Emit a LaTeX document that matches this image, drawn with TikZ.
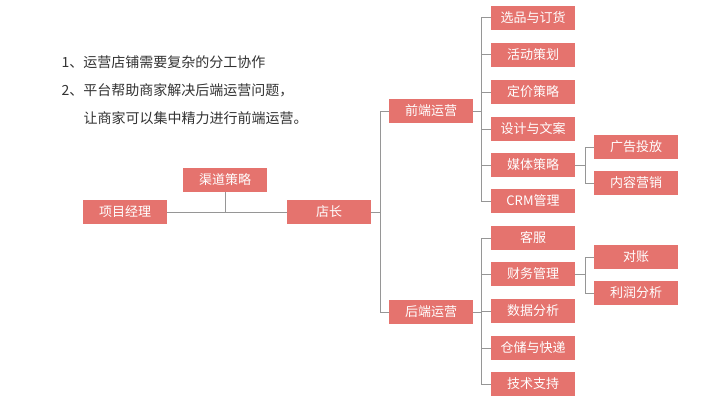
\documentclass[tikz,border=0pt]{standalone}
\usepackage{fontspec}
\setmainfont{Noto Sans CJK SC}
\definecolor{boxred}{RGB}{229,115,110}
\definecolor{linegray}{RGB}{150,150,150}
\tikzset{every picture/.style={line width=0.75pt}}
\tikzset{
  box/.style={fill=boxred,text=white,minimum width=84pt,minimum height=24pt,inner sep=0pt,font=\fontsize{13}{13}\selectfont},
  link/.style={draw=linegray,line width=1pt}
}
\begin{document}
\begin{tikzpicture}[x=1pt,y=1pt,yscale=-1,xscale=1]
\useasboundingbox (0,0) rectangle (715,404);
\fill[white] (0,0) rectangle (715,404);

% notes
\node[anchor=west,font=\fontsize{14}{14}\selectfont,text=black!80] (t1) at (58,62) {1、运营店铺需要复杂的分工协作};
\node[anchor=west,font=\fontsize{14}{14}\selectfont,text=black!80] (t2) at (58,90) {2、平台帮助商家解决后端运营问题，};
\node[anchor=west,font=\fontsize{14}{14}\selectfont,text=black!80] (t3) at (80,118) {让商家可以集中精力进行前端运营。};

% boxes
\node[box] (pm) at (125,212) {项目经理};
\node[box] (qd) at (225,180) {渠道策略};
\node[box] (dz) at (329,212) {店长};
\node[box] (qy) at (431,111) {前端运营};
\node[box] (hy) at (431,312) {后端运营};
\foreach \n/\y/\t in {a1/18/选品与订货,a2/55/活动策划,a3/92/定价策略,a4/129/设计与文案,a5/165/媒体策略,a6/201/CRM管理,
  b1/238/客服,b2/274/财务管理,b3/311/数据分析,b4/348/仓储与快递,b5/384/技术支持}
  \node[box] (\n) at (533,\y) {\t};
\node[box] (c1) at (636,147) {广告投放};
\node[box] (c2) at (636,183) {内容营销};
\node[box] (d1) at (636,257) {对账};
\node[box] (d2) at (636,293) {利润分析};

% connectors
\draw[link] (pm.east) -- (dz.west);
\draw[link] (qd.south) -- (qd.south |- dz.west);
\coordinate (j1) at (380,212);
\draw[link] (dz.east) -- (j1);
\draw[link] (j1 |- qy.west) -- (j1 |- hy.west);
\draw[link] (j1 |- qy.west) -- (qy.west);
\draw[link] (j1 |- hy.west) -- (hy.west);
\coordinate (j2) at (481,111);
\draw[link] (qy.east) -- (j2);
\draw[link] (j2 |- a1.west) -- (j2 |- a6.west);
\foreach \n in {a1,a2,a3,a4,a5,a6} \draw[link] (j2 |- \n.west) -- (\n.west);
\coordinate (j3) at (481,312);
\draw[link] (hy.east) -- (j3);
\draw[link] (j3 |- b1.west) -- (j3 |- b5.west);
\foreach \n in {b1,b2,b3,b4,b5} \draw[link] (j3 |- \n.west) -- (\n.west);
\coordinate (j4) at (585,165);
\draw[link] (a5.east) -- (j4);
\draw[link] (j4 |- c1.west) -- (j4 |- c2.west);
\foreach \n in {c1,c2} \draw[link] (j4 |- \n.west) -- (\n.west);
\coordinate (j5) at (585,274);
\draw[link] (b2.east) -- (j5);
\draw[link] (j5 |- d1.west) -- (j5 |- d2.west);
\foreach \n in {d1,d2} \draw[link] (j5 |- \n.west) -- (\n.west);
\end{tikzpicture}
\end{document}
